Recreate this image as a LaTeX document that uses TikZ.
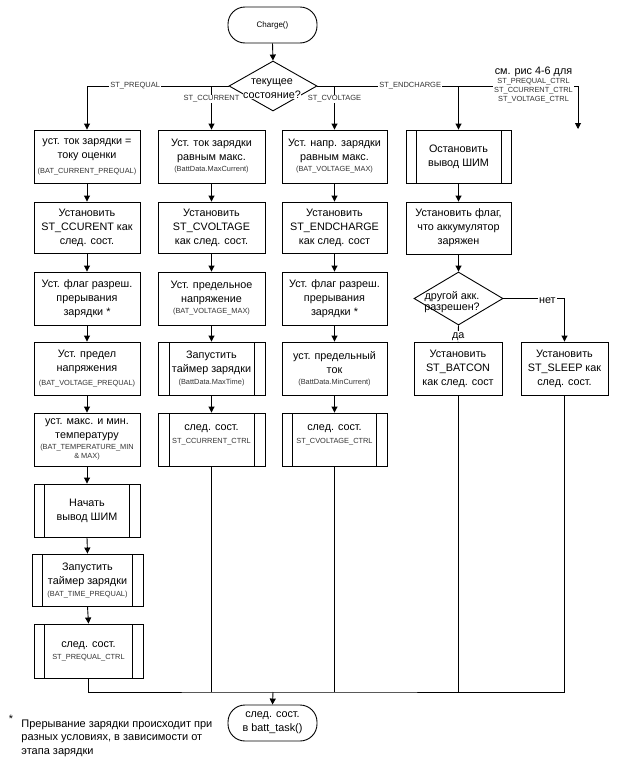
\documentclass[tikz,border=0pt]{standalone}
\usepackage{fontspec}
\setmainfont{Liberation Sans}
\usetikzlibrary{shapes.geometric,arrows.meta}
\newcommand\smt{\fontsize{7.4}{8}\selectfont\color{black!80}}
\newcommand\smn{\fontsize{7.4}{9}\selectfont\color{black!80}}
\begin{document}
\begin{tikzpicture}[x=1pt,y=-1pt,
  line width=0.9pt,
  every node/.style={font=\fontsize{10.8}{14}\selectfont},
  box/.style={draw, rectangle, align=center, minimum width=106pt, minimum height=53pt, inner sep=0.5pt},
  proc/.style={box, path picture={\draw ([xshift=#1]path picture bounding box.north west) -- ([xshift=#1]path picture bounding box.south west) ([xshift=-#1]path picture bounding box.north east) -- ([xshift=-#1]path picture bounding box.south east);}},
  proc/.default=10.5pt,
  term/.style={draw, rectangle, rounded corners=17pt, minimum width=89pt, minimum height=36pt, align=center, inner sep=1pt},
  dia/.style={draw, diamond, minimum width=88pt, minimum height=50pt, inner sep=0pt},
  arr/.style={-{Triangle[length=6pt,width=6pt]}},
  lbl/.style={fill=white, inner sep=1pt, font=\fontsize{7.5}{8}\selectfont, text=black!80},
]
\useasboundingbox (0,0) rectangle (619,763);
% start and decision
\node[term] (t1) at (272.5,25) {\fontsize{8}{9}\selectfont Charge()};
\node[dia] (dec) at (273,86) {};
% column 1
\node[box] (c1r1) at (87,156.5) {уст. ток зарядки =\\току оценки\\[1pt]{\smt (BAT\_CURRENT\_PREQUAL)}};
\node[box, minimum height=51pt] (c1r2) at (87,227.5) {Установить\\ST\_CCURENT как\\след. сост.};
\node[box] (c1r3) at (87,298.5) {Уст. флаг разреш.\\прерывания\\зарядки *};
\node[box] (c1r4) at (87,368.5) {Уст. предел\\напряжения\\[0pt]{\smt (BAT\_VOLTAGE\_PREQUAL)}};
\node[box] (c1r5) at (87,439.5) {уст. макс. и мин.\\температуру\\[-3.5pt]{\smt (BAT\_TEMPERATURE\_MIN}\\[-5pt]{\smt \& MAX)}};
\node[proc] (c1r6) at (87,510.5) {Начать\\вывод ШИМ};
\node[proc, minimum width=111pt, minimum height=52pt] (c1r7) at (87.5,580) {Запустить\\таймер зарядки\\[-2pt]{\smt (BAT\_TIME\_PREQUAL)}};
\node[proc, minimum width=109pt, minimum height=54pt] (c1r8) at (88.5,651) {след. сост.\\[-2pt]{\smt ST\_PREQUAL\_CTRL}};
% column 2
\node[box, minimum width=107pt] (c2r1) at (211.5,156.5) {Уст. ток зарядки\\равным макс.\\[-3pt]{\smt (BattData.MaxCurrent)}};
\node[box, minimum width=107pt, minimum height=51pt] (c2r2) at (211.5,227.5) {Установить\\ST\_CVOLTAGE\\как след. сост.};
\node[box, minimum width=107pt] (c2r3) at (211.5,298.5) {Уст. предельное\\напряжение\\[-3pt]{\smt (BAT\_VOLTAGE\_MAX)}};
\node[proc=11pt, minimum width=107pt] (c2r4) at (211.5,368.5) {Запустить\\таймер зарядки\\[-2pt]{\smt (BattData.MaxTime)}};
\node[proc=11pt, minimum width=107pt, text depth=10pt] (c2r5) at (211.5,439.5) {след. сост.\\[-1pt]{\smt ST\_CCURRENT\_CTRL}};
% column 3
\node[box, minimum width=105pt] (c3r1) at (334.5,156.5) {Уст. напр. зарядки\\равным макс.\\[-3pt]{\smt (BAT\_VOLTAGE\_MAX)}};
\node[box, minimum width=105pt, minimum height=51pt] (c3r2) at (334.5,227.5) {Установить\\ST\_ENDCHARGE\\как след. сост};
\node[box, minimum width=105pt] (c3r3) at (334.5,298.5) {Уст. флаг разреш.\\прерывания\\зарядки *};
\node[box, minimum width=105pt] (c3r4) at (334.5,368.5) {уст. предельный\\ток\\[-3pt]{\smt (BattData.MinCurrent)}};
\node[proc=10.5pt, minimum width=105pt, text depth=10pt] (c3r5) at (334.5,439.5) {след. сост.\\[-1pt]{\smt ST\_CVOLTAGE\_CTRL}};
% column 4
\node[proc=10pt, minimum width=105pt] (c4r1) at (458.5,156.5) {Остановить\\вывод ШИМ};
\node[box, minimum width=105pt, minimum height=52pt] (c4r2) at (458.5,228) {Установить флаг,\\что аккумулятор\\заряжен};
\node[dia, minimum width=89pt, minimum height=53pt] (d2) at (458.5,298.5) {};
\node[align=center, inner sep=0pt] (d2t) at (452,302.5) {другой акк.\\[-3pt]разрешен?};
\node[box, minimum width=88pt] (batcon) at (458,368.5) {Установить\\ST\_BATCON\\как след. сост};
\node[box, minimum width=87pt] (sleep) at (564.5,368.5) {Установить\\ST\_SLEEP как\\след. сост.};
% end
\node[term] (t2) at (272.5,723) {\fontsize{10.8}{12}\selectfont след. сост.\\в batt\_task()};
% footnote
\node[inner sep=0pt] (star) at (11,719) {*};
\node[align=left, anchor=north west, inner sep=0pt, font=\fontsize{11}{13.5}\selectfont] (fn) at (21,719) {Прерывание зарядки происходит при\\разных условиях, в зависимости от\\этапа зарядки};
% connectors
\coordinate (endA) at (578,129);
\coordinate (mrg) at (273,692);
\draw[arr] (t1.south) -- (dec.north);
\draw[arr] (dec.west) -| (c1r1.north) node[lbl, pos=0.33] {ST\_PREQUAL};
\draw[arr] (dec.west -| c2r1.north) -- (c2r1.north) node[lbl, pos=0.3] {ST\_CCURRENT};
\draw[arr] (dec.east -| c3r1.north) -- (c3r1.north) node[lbl, pos=0.3] {ST\_CVOLTAGE};
\draw[arr] (dec.east) -| (endA) node[lbl, pos=0.178] {ST\_ENDCHARGE};
\draw[arr] (dec.east -| c4r1.north) -- (c4r1.north);
\node[fill=white, inner sep=1pt, align=center] (note) at (533.5,85) {см. рис 4-6 для\\[-5pt]{\smn ST\_PREQUAL\_CTRL}\\[-5pt]{\smn ST\_CCURRENT\_CTRL}\\[-5pt]{\smn ST\_VOLTAGE\_CTRL}};
\node[fill=white, inner sep=0.5pt, align=center] (dect) at (272,89) {текущее\\состояние?};
\foreach \a/\b in {c1r1/c1r2,c1r2/c1r3,c1r3/c1r4,c1r4/c1r5,c1r5/c1r6,c1r6/c1r7,c1r7/c1r8,
  c2r1/c2r2,c2r2/c2r3,c2r3/c2r4,c2r4/c2r5,
  c3r1/c3r2,c3r2/c3r3,c3r3/c3r4,c3r4/c3r5,
  c4r1/c4r2,c4r2/d2}
  \draw[arr] (\a.south) -- (\b.north);
\draw[arr] (d2.south) -- (batcon.north) node[fill=white, inner sep=1pt, pos=0.68] {да};
\draw[arr] (d2.east) -| (sleep.north) node[fill=white, inner sep=1pt, pos=0.36, yshift=-2pt] {нет};
\draw (c1r8.south) |- (mrg) -- (mrg -| sleep.south) -- (sleep.south);
\draw (c2r5.south) -- (c2r5.south |- mrg);
\draw (c3r5.south) -- (c3r5.south |- mrg);
\draw (batcon.south) -- (batcon.south |- mrg);
\draw[arr] (mrg) -- (t2.north);
\end{tikzpicture}
\end{document}
